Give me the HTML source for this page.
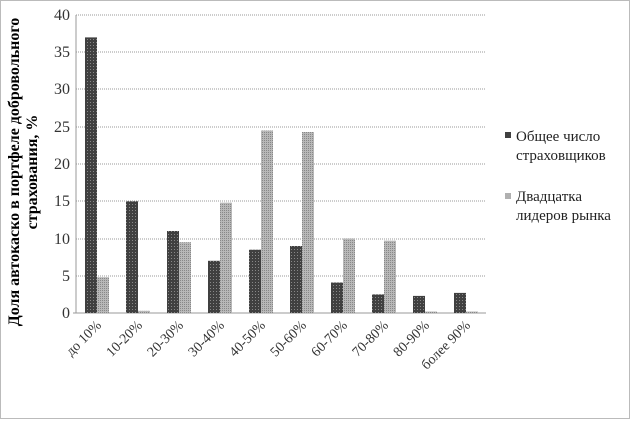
<!DOCTYPE html>
<html><head><meta charset="utf-8"><style>body{margin:0;background:#fff}</style></head><body>
<svg width="630" height="419" xmlns="http://www.w3.org/2000/svg" font-family="Liberation Serif, serif">
<defs>
<pattern id="d" width="3" height="3" patternUnits="userSpaceOnUse"><rect width="3" height="3" fill="#404040"/><rect width="1" height="1" fill="#888"/></pattern>
<pattern id="l" width="2" height="2" patternUnits="userSpaceOnUse"><rect width="2" height="2" fill="#b8b8b8"/><rect width="1" height="1" fill="#888"/></pattern>
</defs>
<rect x="0.5" y="0.5" width="629" height="418" fill="#fff" stroke="#777" stroke-dasharray="1,1"/>
<g stroke="#999" stroke-dasharray="1,1">
<line x1="76" x2="486" y1="15" y2="15"/><line x1="76" x2="486" y1="52" y2="52"/><line x1="76" x2="486" y1="89" y2="89"/><line x1="76" x2="486" y1="127" y2="127"/><line x1="76" x2="486" y1="164" y2="164"/><line x1="76" x2="486" y1="201" y2="201"/><line x1="76" x2="486" y1="239" y2="239"/><line x1="76" x2="486" y1="276" y2="276"/>
</g>
<line x1="76" y1="15" x2="76" y2="313" stroke="#999"/>
<line x1="73" y1="313" x2="486" y2="313" stroke="#999"/>
<g font-size="16" text-anchor="end" fill="#333">
<text x="70" y="20">40</text><text x="70" y="57">35</text><text x="70" y="94">30</text><text x="70" y="132">25</text><text x="70" y="169">20</text><text x="70" y="206">15</text><text x="70" y="244">10</text><text x="70" y="281">5</text><text x="70" y="318">0</text>
</g>
<g fill="url(#d)">
<rect x="85" y="37.4" width="12" height="275.6"/>
<rect x="126" y="201.3" width="12" height="111.7"/>
<rect x="167" y="231" width="12" height="82"/>
<rect x="208" y="260.8" width="12" height="52.2"/>
<rect x="249" y="249.7" width="12" height="63.3"/>
<rect x="290" y="246" width="12" height="67"/>
<rect x="331" y="282.5" width="12" height="30.5"/>
<rect x="372" y="294.4" width="12" height="18.6"/>
<rect x="413" y="295.9" width="12" height="17.1"/>
<rect x="454" y="292.9" width="12" height="20.1"/>
</g>
<g fill="url(#l)">
<rect x="97" y="277.2" width="12" height="35.8"/>
<rect x="138" y="310.8" width="12" height="2.2"/>
<rect x="179" y="242.2" width="12" height="70.8"/>
<rect x="220" y="202.7" width="12" height="110.3"/>
<rect x="261" y="130.5" width="12" height="182.5"/>
<rect x="302" y="132" width="12" height="181"/>
<rect x="343" y="238.5" width="12" height="74.5"/>
<rect x="384" y="240.7" width="12" height="72.3"/>
<rect x="425" y="311.5" width="12" height="1.5"/>
<rect x="466" y="311.5" width="12" height="1.5"/>
</g>
<g font-size="14" fill="#333" text-anchor="end">
<text transform="translate(102,326) rotate(-45)">до 10%</text>
<text transform="translate(143,326) rotate(-45)">10-20%</text>
<text transform="translate(184,326) rotate(-45)">20-30%</text>
<text transform="translate(225,326) rotate(-45)">30-40%</text>
<text transform="translate(266,326) rotate(-45)">40-50%</text>
<text transform="translate(307,326) rotate(-45)">50-60%</text>
<text transform="translate(348,326) rotate(-45)">60-70%</text>
<text transform="translate(389,326) rotate(-45)">70-80%</text>
<text transform="translate(430,326) rotate(-45)">80-90%</text>
<text transform="translate(471,326) rotate(-45)">более 90%</text>
</g>
<text font-size="16" font-weight="bold" text-anchor="middle" transform="translate(19,172) rotate(-90)">Доля автокаско в портфеле добровольного</text>
<text font-size="16" font-weight="bold" text-anchor="middle" transform="translate(37,172) rotate(-90)">страхования, %</text>
<rect x="505" y="132" width="6" height="6" fill="#404040"/>
<rect x="505" y="193" width="6" height="6" fill="#b0b0b0"/>
<g font-size="15" fill="#222">
<text x="516" y="141">Общее число</text><text x="516" y="160">страховщиков</text>
<text x="516" y="201">Двадцатка</text><text x="516" y="220">лидеров рынка</text>
</g>
</svg>
</body></html>
